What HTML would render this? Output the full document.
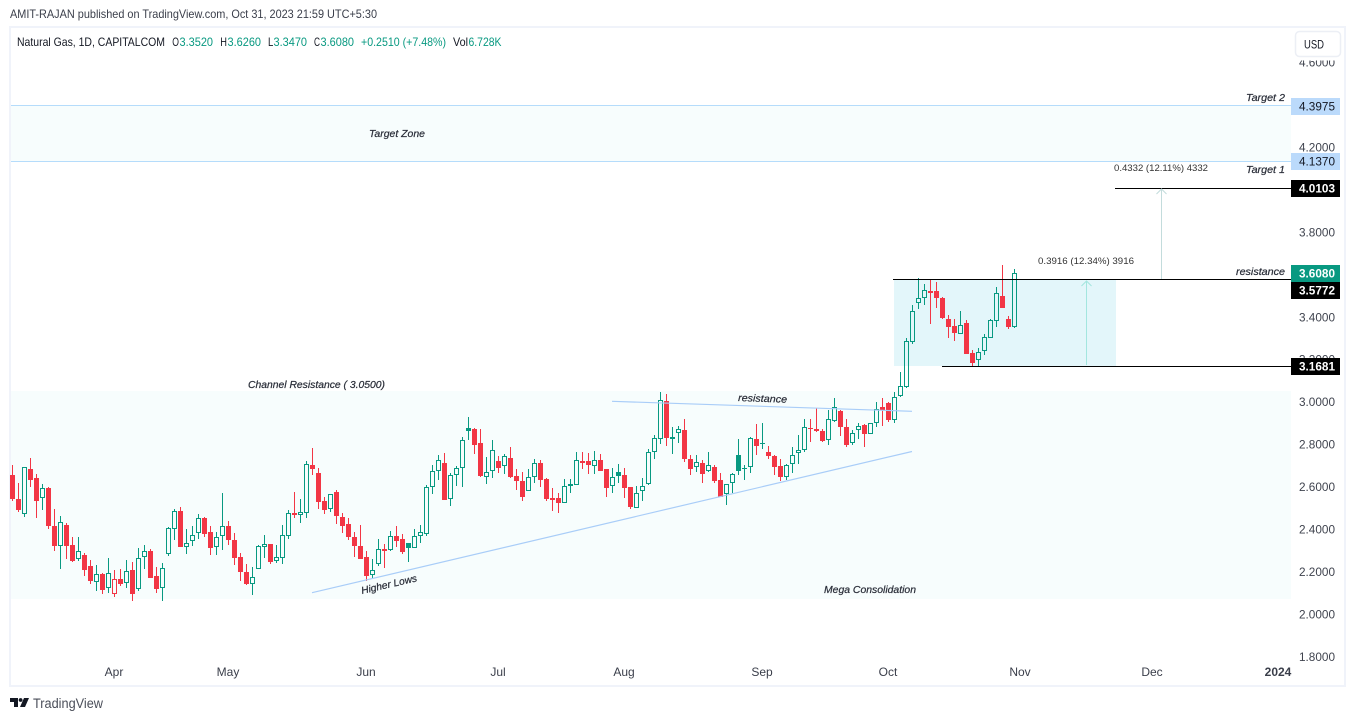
<!DOCTYPE html>
<html lang="en">
<head>
<meta charset="utf-8">
<title>Natural Gas 1D chart</title>
<style>
html,body{margin:0;padding:0;background:#fff;width:1355px;height:721px;overflow:hidden}
svg{display:block;font-family:"Liberation Sans",sans-serif}
.note{font-size:10px;font-style:italic;fill:#2a2e39;stroke:#2a2e39;stroke-width:.22px}
.measure{font-size:9.5px;fill:#333}
.tick{font-size:11.5px;fill:#3f434e}
.leg{font-size:12px;fill:#131722}
.val{font-size:12px;fill:#089981}
</style>
</head>
<body>
<svg id="chart" xmlns="http://www.w3.org/2000/svg" width="1355" height="721" viewBox="0 0 1355 721">
  <rect width="1355" height="721" fill="#fff"/>
  <text x="10" y="18" font-size="12" fill="#3a3e4a" textLength="367" lengthAdjust="spacingAndGlyphs">AMIT-RAJAN published on TradingView.com, Oct 31, 2023 21:59 UTC+5:30</text>
  <rect x="10" y="27" width="1335" height="659" fill="#fff" stroke="#f0f3fa" stroke-width="2"/>
  <g id="zones"></g>
  <g id="candles"></g>
  <g id="overlays"></g>
  <g id="yaxis"></g>
  <g id="xaxis"></g>
  <g id="pricetags"></g>

  <rect x="1292" y="28" width="51" height="32.5" fill="#fff"/>
  <g>
    <rect x="1295.5" y="31.5" width="45" height="25" rx="4" fill="#fff" stroke="#eceff5" stroke-width="1.5"/>
    <text x="1304" y="48.5" font-size="12" fill="#131722" textLength="20" lengthAdjust="spacingAndGlyphs">USD</text>
  </g>

  <g>
    <text class="leg" x="17" y="46" textLength="148" lengthAdjust="spacingAndGlyphs">Natural Gas, 1D, CAPITALCOM</text>
    <text class="leg" x="172.3" y="46" textLength="6.7" lengthAdjust="spacingAndGlyphs">O</text>
    <text class="val" x="179.5" y="46" textLength="33.5" lengthAdjust="spacingAndGlyphs">3.3520</text>
    <text class="leg" x="220.3" y="46" textLength="6.7" lengthAdjust="spacingAndGlyphs">H</text>
    <text class="val" x="227.5" y="46" textLength="33.5" lengthAdjust="spacingAndGlyphs">3.6260</text>
    <text class="leg" x="268" y="46" textLength="5.3" lengthAdjust="spacingAndGlyphs">L</text>
    <text class="val" x="273.5" y="46" textLength="33.5" lengthAdjust="spacingAndGlyphs">3.3470</text>
    <text class="leg" x="314" y="46" textLength="6" lengthAdjust="spacingAndGlyphs">C</text>
    <text class="val" x="320.5" y="46" textLength="33.5" lengthAdjust="spacingAndGlyphs">3.6080</text>
    <text class="val" x="361" y="46" textLength="85" lengthAdjust="spacingAndGlyphs">+0.2510 (+7.48%)</text>
    <text class="leg" x="453" y="46" textLength="15" lengthAdjust="spacingAndGlyphs">Vol</text>
    <text class="val" x="468.5" y="46" textLength="33" lengthAdjust="spacingAndGlyphs">6.728K</text>
  </g>

  <g>
    <text class="note" x="1246" y="101" textLength="39" lengthAdjust="spacingAndGlyphs">Target 2</text>
    <text class="note" x="1246" y="173" textLength="39" lengthAdjust="spacingAndGlyphs">Target 1</text>
    <text class="note" x="369" y="137" textLength="56" lengthAdjust="spacingAndGlyphs">Target Zone</text>
    <text class="note" x="1236" y="275" textLength="49" lengthAdjust="spacingAndGlyphs">resistance</text>
    <text class="note" x="248" y="388" textLength="137" lengthAdjust="spacingAndGlyphs">Channel Resistance ( 3.0500)</text>
    <text class="note" x="738" y="401" transform="rotate(2 738 401)" textLength="49" lengthAdjust="spacingAndGlyphs">resistance</text>
    <text class="note" x="362" y="594" transform="rotate(-13 362 594)" textLength="57" lengthAdjust="spacingAndGlyphs">Higher Lows</text>
    <text class="note" x="824" y="593" textLength="92" lengthAdjust="spacingAndGlyphs">Mega Consolidation</text>
    <text class="measure" x="1038" y="264" textLength="96" lengthAdjust="spacingAndGlyphs">0.3916 (12.34%) 3916</text>
    <text class="measure" x="1114" y="171" textLength="94" lengthAdjust="spacingAndGlyphs">0.4332 (12.11%) 4332</text>
  </g>

  <g>
    <path d="M10 698h8v9h-4v-5h-4zM24 698h5l-4 9h-5z" fill="#131722"/>
    <circle cx="20.6" cy="700" r="1.9" fill="#131722"/>
    <text x="33" y="708" font-size="13.5" fill="#4a4e59" textLength="70" lengthAdjust="spacingAndGlyphs">TradingView</text>
  </g>
</svg>

<script>
const opens = [2.656,2.543,2.474,2.684,2.642,2.549,2.595,2.416,2.323,2.420,
2.326,2.259,2.279,2.227,2.154,2.190,2.125,2.097,2.166,2.149,
2.208,2.121,2.268,2.298,2.180,2.125,2.285,2.400,2.486,2.318,
2.344,2.384,2.453,2.387,2.315,2.367,2.414,2.350,2.270,2.199,
2.144,2.212,2.315,2.329,2.252,2.267,2.370,2.475,2.469,2.479,
2.701,2.665,2.534,2.497,2.576,2.458,2.425,2.364,2.321,2.270,
2.183,2.238,2.307,2.304,2.368,2.354,2.335,2.313,2.367,2.379,
2.598,2.673,2.715,2.544,2.654,2.690,2.877,2.872,2.806,2.648,
2.673,2.722,2.697,2.736,2.651,2.627,2.582,2.646,2.712,2.637,
2.547,2.547,2.525,2.613,2.607,2.722,2.722,2.700,2.725,2.684,
2.602,2.671,2.657,2.598,2.500,2.580,2.613,2.766,2.825,3.005,
2.825,2.853,2.867,2.732,2.693,2.711,2.674,2.693,2.633,2.565,
2.617,2.749,2.688,2.693,2.826,2.807,2.765,2.746,2.699,2.646,
2.707,2.759,2.773,2.876,2.872,2.864,2.820,2.912,2.958,2.883,
2.806,2.870,2.892,2.848,2.900,2.977,2.996,2.917,3.027,3.072,
3.283,3.468,3.488,3.523,3.523,3.490,3.391,3.358,3.322,3.372,
3.231,3.199,3.239,3.303,3.383,3.499,3.391,3.352];
const highs = [2.703,2.617,2.692,2.738,2.661,2.614,2.601,2.496,2.463,2.430,
2.364,2.364,2.287,2.256,2.232,2.193,2.265,2.208,2.213,2.256,
2.246,2.312,2.326,2.307,2.223,2.241,2.411,2.496,2.505,2.402,
2.416,2.472,2.457,2.416,2.387,2.571,2.439,2.383,2.289,2.237,
2.223,2.325,2.373,2.331,2.326,2.420,2.491,2.576,2.543,2.722,
2.783,2.689,2.552,2.566,2.585,2.477,2.453,2.387,2.420,2.298,
2.260,2.354,2.331,2.392,2.416,2.378,2.335,2.401,2.420,2.609,
2.703,2.750,2.759,2.665,2.698,2.835,2.929,2.877,2.872,2.741,
2.821,2.745,2.755,2.788,2.684,2.670,2.684,2.731,2.726,2.642,
2.595,2.571,2.637,2.637,2.764,2.764,2.759,2.769,2.755,2.684,
2.688,2.708,2.688,2.598,2.602,2.641,2.777,2.845,3.047,3.038,
2.884,2.887,2.920,2.751,2.751,2.727,2.765,2.704,2.664,2.613,
2.664,2.826,2.705,2.834,2.897,2.901,2.795,2.751,2.732,2.708,
2.790,2.845,2.920,2.920,2.972,2.873,2.963,3.018,2.963,2.920,
2.868,2.903,2.897,2.900,3.002,3.018,3.002,3.046,3.141,3.302,
3.457,3.584,3.556,3.579,3.565,3.495,3.410,3.391,3.429,3.386,
3.245,3.253,3.320,3.391,3.542,3.645,3.405,3.626];
const lows = [2.534,2.482,2.458,2.599,2.453,2.491,2.402,2.298,2.213,2.260,
2.245,2.251,2.180,2.143,2.110,2.095,2.100,2.081,2.133,2.125,
2.062,2.110,2.213,2.172,2.099,2.062,2.274,2.350,2.317,2.284,
2.322,2.355,2.364,2.279,2.279,2.303,2.326,2.232,2.157,2.138,
2.091,2.212,2.265,2.237,2.241,2.237,2.355,2.453,2.430,2.453,
2.656,2.496,2.472,2.483,2.425,2.383,2.350,2.270,2.260,2.156,
2.166,2.227,2.218,2.298,2.317,2.284,2.246,2.313,2.335,2.368,
2.566,2.632,2.538,2.510,2.604,2.599,2.821,2.755,2.646,2.613,
2.642,2.665,2.660,2.642,2.585,2.533,2.580,2.618,2.599,2.533,
2.486,2.477,2.524,2.571,2.607,2.684,2.660,2.660,2.675,2.552,
2.573,2.620,2.550,2.495,2.500,2.536,2.611,2.730,2.803,2.793,
2.755,2.809,2.719,2.657,2.668,2.619,2.668,2.619,2.554,2.515,
2.570,2.657,2.633,2.664,2.751,2.779,2.733,2.657,2.628,2.633,
2.664,2.708,2.766,2.810,2.859,2.810,2.798,2.908,2.840,2.790,
2.798,2.826,2.788,2.847,2.884,2.887,2.905,2.903,3.022,3.066,
3.273,3.438,3.457,3.367,3.443,3.391,3.302,3.287,3.322,3.226,
3.170,3.170,3.221,3.302,3.353,3.443,3.344,3.347];
const closes = [2.543,2.491,2.692,2.632,2.534,2.593,2.416,2.322,2.433,2.322,
2.251,2.296,2.208,2.157,2.188,2.114,2.193,2.165,2.144,2.202,
2.097,2.263,2.296,2.172,2.119,2.216,2.405,2.485,2.317,2.334,
2.372,2.452,2.378,2.312,2.362,2.414,2.350,2.265,2.199,2.143,
2.174,2.320,2.329,2.246,2.268,2.372,2.475,2.468,2.480,2.706,
2.684,2.529,2.491,2.565,2.463,2.416,2.364,2.321,2.260,2.180,
2.207,2.306,2.298,2.368,2.346,2.293,2.313,2.368,2.390,2.598,
2.673,2.725,2.538,2.654,2.687,2.819,2.863,2.797,2.651,2.668,
2.772,2.689,2.744,2.646,2.627,2.552,2.649,2.711,2.632,2.543,
2.538,2.524,2.602,2.606,2.725,2.712,2.703,2.725,2.675,2.595,
2.649,2.652,2.597,2.507,2.573,2.606,2.763,2.829,3.008,2.832,
2.837,2.872,2.732,2.686,2.716,2.663,2.702,2.628,2.554,2.613,
2.660,2.677,2.683,2.831,2.795,2.803,2.746,2.696,2.649,2.702,
2.749,2.773,2.881,2.872,2.864,2.814,2.919,2.975,2.883,2.799,
2.853,2.886,2.847,2.900,2.966,2.963,2.916,3.022,3.074,3.287,
3.427,3.488,3.526,3.515,3.490,3.396,3.353,3.325,3.361,3.226,
3.184,3.234,3.305,3.385,3.512,3.443,3.353,3.608];

const priceTicks = [4.6,4.4,4.2,4.0,3.8,3.6,3.4,3.2,3.0,2.8,2.6,2.4,2.2,2.0,1.8];
const monthLabels = ["Apr","May","Jun","Jul","Aug","Sep","Oct","Nov","Dec","2024"];
const monthBars = [17,36,59,81,102,125,146,168,190,211];
const levelNames = ["target-2","target-1","measure-top","last-close","resistance","support"];
const levelPrices = [4.3975,4.1370,4.0103,3.6080,3.5772,3.1681];
const channelPrices = [3.05,2.07];

const SVGNS = "http://www.w3.org/2000/svg";
const GREEN = "#089981", RED = "#f23645";
const xOf = i => 12.5 + 6 * i;
const yOf = p => 402 + (3 - p) * 212.3;
const PLOT_L = 11, PLOT_R = 1291;

function make(parent, tag, attrs) {
  const el = document.createElementNS(SVGNS, tag);
  for (const k in attrs) el.setAttribute(k, attrs[k]);
  parent.appendChild(el);
  return el;
}

const zones = document.getElementById("zones");
const candles = document.getElementById("candles");
const overlays = document.getElementById("overlays");
const yaxis = document.getElementById("yaxis");
const xaxis = document.getElementById("xaxis");
const pricetags = document.getElementById("pricetags");

/* zones */
const y1 = Math.round(yOf(levelPrices[0])), y2 = Math.round(yOf(levelPrices[1]));
const targetZone = make(zones, "rect", {x:PLOT_L, y:y1, width:PLOT_R-PLOT_L, height:y2-y1, fill:"#f7fdfd"});


const chTop = Math.round(yOf(channelPrices[0])), chBot = Math.round(yOf(channelPrices[1]));
const channelZone = make(zones, "rect", {x:PLOT_L, y:chTop, width:PLOT_R-PLOT_L, height:chBot-chTop, fill:"#f7fdfd"});


const resY = Math.round(yOf(levelPrices[4])), supY = Math.round(yOf(levelPrices[5]));
const measureBox = make(zones, "rect", {x:894, y:resY, width:222, height:supY-resY, fill:"#e3f6fa"});



/* candles: hollow when close > open, colour from close vs previous close */
closes.forEach((c, i) => {
  const o = opens[i], h = highs[i], l = lows[i];
  const prev = i > 0 ? closes[i-1] : o;
  const col = c >= prev ? GREEN : RED;
  const hollow = c > o;
  const X = xOf(i);
  const top = Math.round(yOf(Math.max(o, c)));
  const bot = Math.max(Math.round(yOf(Math.min(o, c))), top + 1);
  const g = make(candles, "g", {});
  
  
  const hy = Math.round(yOf(h)), ly = Math.round(yOf(l));
  if (hy < top) make(g, "rect", {x:X-0.5, y:hy, width:1, height:top-hy, fill:col});
  if (ly > bot) make(g, "rect", {x:X-0.5, y:bot, width:1, height:ly-bot, fill:col});
  if (hollow) {
    make(g, "rect", {x:X-2, y:top+0.5, width:4, height:Math.max(bot-top-1,1), fill:"none", stroke:col, "stroke-width":1});
  } else {
    make(g, "rect", {x:X-2.5, y:top, width:5, height:bot-top, fill:col});
  }
});

/* drawings */
function hLine(name, price, x0, color) {
  const yy = Math.round(yOf(price)) + 0.5;
  const ln = make(overlays, "line", {x1:x0, y1:yy, x2:PLOT_R, y2:yy, stroke:color, "stroke-width":1});
  
  
}
hLine("target-2-line", levelPrices[0], PLOT_L, "#b5dcfb");
hLine("target-1-line", levelPrices[1], PLOT_L, "#b5dcfb");
hLine("measure-top-line", levelPrices[2], 1115, "#000");
hLine("resistance-line", levelPrices[4], 893, "#000");
hLine("support-line", levelPrices[5], 942, "#000");

const supportTrend = make(overlays, "line", {x1:312, y1:592.7, x2:912, y2:451.5, stroke:"#a9cdf8", "stroke-width":1.2});


const resistTrend = make(overlays, "line", {x1:612, y1:401.3, x2:912, y2:411.3, stroke:"#a9cdf8", "stroke-width":1.2});



function arrow(name, x, yFrom, yTo, color) {
  const p = make(overlays, "path", {d:`M${x} ${yFrom}V${yTo}M${x-5} ${yTo+5}L${x} ${yTo}L${x+5} ${yTo+5}`, fill:"none", stroke:color, "stroke-width":1});
  
  
}
arrow("measure-1-arrow", 1086.5, supY - 1, resY + 2, "#a3e6df");
arrow("measure-2-arrow", 1161.5, resY, Math.round(yOf(levelPrices[2])) + 1, "#c3dcdc");

/* price axis */
priceTicks.forEach(p => {
  const t = make(yaxis, "text", {x:1299, y:yOf(p)+4.2, "class":"tick", textLength:36, lengthAdjust:"spacingAndGlyphs"});
  
  
  t.textContent = p.toFixed(4);
});

/* time axis */
monthLabels.forEach((m, k) => {
  const t = make(xaxis, "text", {x:xOf(monthBars[k]) - 0.5, y:676, "text-anchor":"middle", "font-size":12, fill:"#3a3e4a", "font-weight": m === "2024" ? "bold" : "normal"});
  
  
  t.textContent = m;
});

/* price tags: tag top, tag colour, text colour */
const tagStyles = {"target-2":[98,"#bbdafb","#131722"],"target-1":[153,"#bbdafb","#131722"],"measure-top":[180,"#000","#fff"],
  "last-close":[265,GREEN,"#fff"],"resistance":[282,"#000","#fff"],"support":[358,"#000","#fff"]};
levelNames.forEach((n, k) => {
  const s = tagStyles[n];
  const g = make(pricetags, "g", {});
  
  
  make(g, "rect", {x:1291, y:s[0], width:49, height:17, fill:s[1]});
  const t = make(g, "text", {x:1299, y:s[0]+12.7, "font-size":11.5, fill:s[2], "font-weight": s[2]==="#fff" ? "bold" : "normal", textLength:36, lengthAdjust:"spacingAndGlyphs"});
  t.textContent = levelPrices[k].toFixed(4);
});
</script>
</body>
</html>
